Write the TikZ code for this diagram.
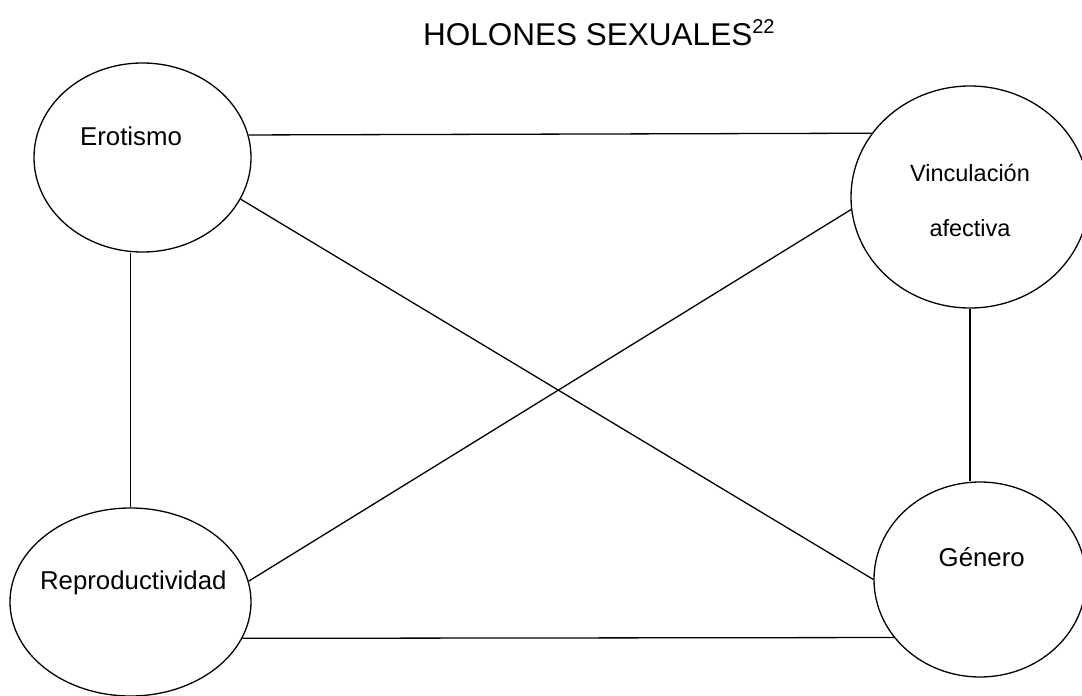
\documentclass[tikz,border=0pt]{standalone}
\usepackage{fontspec}
\setmainfont{Liberation Sans}
\usetikzlibrary{shapes.geometric}
\tikzset{
	holon/.style={draw,ellipse,line width=1.3pt,inner sep=0pt},
	holontext/.style={anchor=base,inner sep=0pt,font=\fontsize{25.8}{30}\selectfont},
	link/.style={line width=1.3pt}
}
\begin{document}
\begin{tikzpicture}[x=1pt,y=-1pt]
	\useasboundingbox (0,0) rectangle (1082,696);
	\clip (0,0) rectangle (1082,696); % Clips the picture...

		\node[anchor=base west,inner sep=0pt,font=\fontsize{31.5}{36}\selectfont] (Title) at (423,45) {HOLONES SEXUALES\raisebox{11.5pt}{\fontsize{20}{22}\selectfont 22}};

		% the four holons
		\node[holon,minimum width=217pt,minimum height=189pt] (Erotismo) at (142.5,157.5) {};
		\node[holon,minimum width=238pt,minimum height=222pt] (Vinculacion) at (970,197) {};
		\node[holon,minimum width=241pt,minimum height=188pt] (Reproductividad) at (130.5,602) {};
		\node[holon,minimum width=212pt,minimum height=195pt] (Genero) at (980,579.5) {};

		\node[holontext] (ErotismoText) at (131,145) {Erotismo};
		\node[holontext,font=\fontsize{23.5}{28}\selectfont] (VincText) at (970,181.7) {Vinculación};
		\node[holontext,font=\fontsize{23.5}{28}\selectfont] (AfectText) at (970,236.7) {afectiva};
		\node[holontext] (ReproText) at (133.3,589.3) {Reproductividad};
		\node[holontext] (GeneroText) at (981.7,566.5) {Género};

		\draw[link] (Erotismo.12) -- (Vinculacion.147.9);% top
		\draw[link] (Erotismo.-23.8) -- (Genero.180);% diagonal
		\draw[link] (Vinculacion.186) -- (Reproductividad.10.6);% diagonal
		\draw[link] (Reproductividad.north) -- (Reproductividad.north |- Erotismo.south);% left
		\draw[link] (Vinculacion.south) -- (Vinculacion.south |- Genero.north);% right
		\draw[link] (Reproductividad.-18) -- (Genero.214.6);% bottom
	\end{tikzpicture}
\end{document}
